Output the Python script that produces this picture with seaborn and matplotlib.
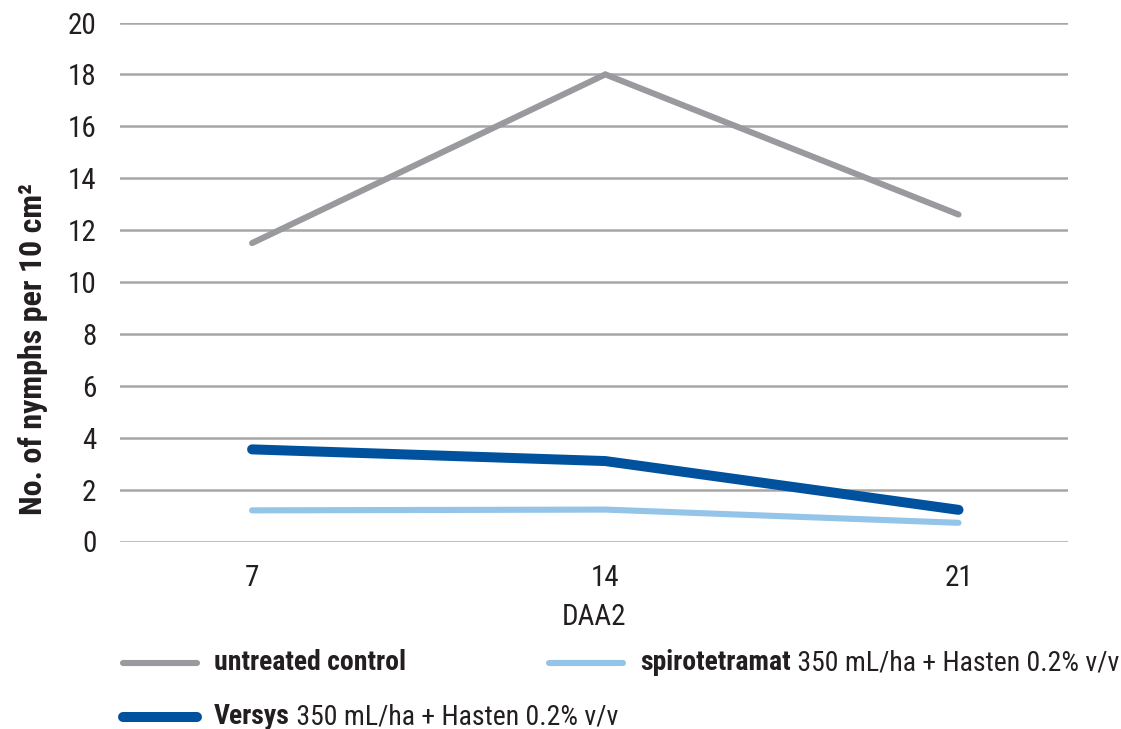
import matplotlib
matplotlib.use("Agg")
import matplotlib.pyplot as plt
import seaborn as sns
import pandas as pd
from matplotlib.lines import Line2D

days = ["7", "14", "21"]
untreated = [11.5, 18.0, 12.6]
spiro = [1.2, 1.23, 0.72]
versys = [3.55, 3.1, 1.22]

series_names = ["untreated control", "spirotetramat", "Versys"]
series_rest = ["", " 350 mL/ha + Hasten 0.2% v/v", " 350 mL/ha + Hasten 0.2% v/v"]
colors = ["#999a9e", "#94c4e8", "#00519e"]
widths = [4.4, 4.4, 7.2]

yticks = list(range(0, 21, 2))

sns.set_theme(style="white")
FONT = ["Roboto Condensed", "Liberation Sans Narrow", "Roboto", "DejaVu Sans"]
plt.rcParams["font.family"] = FONT

fig = plt.figure(figsize=(11.21, 7.29), dpi=100)
ax = fig.add_axes([120 / 1121, 1 - 541.5 / 729, (1068 - 120) / 1121, (541.5 - 22.5) / 729])

df = pd.DataFrame({
    "DAA2": days * 3,
    "value": untreated + spiro + versys,
    "series": [s for s in series_names for _ in days],
})

for name, col, lw in zip(series_names, colors, widths):
    sub = df[df["series"] == name]
    sns.lineplot(data=sub, x="DAA2", y="value", ax=ax, color=col, linewidth=lw,
                 solid_capstyle="round", solid_joinstyle="miter", sort=False, legend=False)

ax.set_xlim(-0.374, 2.31)
ax.set_ylim(0, 20)
ax.set_yticks(yticks)
ax.set_yticklabels([str(t) for t in yticks], fontsize=21, color="#231f20")
ax.set_xticks(range(len(days)))
ax.set_xticklabels(days, fontsize=21, color="#231f20")
ax.tick_params(axis="x", length=0, pad=16)
ax.tick_params(axis="y", length=0, pad=17)
ax.yaxis.grid(True, color="#a6a6a6", linewidth=1.8)
ax.xaxis.grid(False)
for sp in ax.spines.values():
    sp.set_visible(False)
ax.set_axisbelow(True)

ax.set_xlabel("DAA2", fontsize=21, color="#231f20", labelpad=8)
ax.set_ylabel("No. of nymphs per 10 cm²", fontsize=23, fontweight="bold", color="#231f20")
ax.yaxis.set_label_coords(-0.076, 0.37)

# manual legend
fig.canvas.draw()
renderer = fig.canvas.get_renderer()
legend_pos = [(123, 663), (549, 663), (123, 717)]
for idx, (px, py) in enumerate(legend_pos):
    yf = 1 - py / 729
    fig.add_artist(Line2D([px / 1121, (px + 74) / 1121], [yf, yf], color=colors[idx],
                          linewidth=widths[idx], solid_capstyle="round", transform=fig.transFigure))
    t = fig.text((px + 91) / 1121, yf, series_names[idx], fontsize=20, fontweight="bold",
                 color="#231f20", va="center", ha="left")
    if series_rest[idx]:
        bb = t.get_window_extent(renderer)
        fig.text(bb.x1 / 1121, yf, series_rest[idx], fontsize=20, color="#231f20",
                 va="center", ha="left")

fig.savefig("out.png", dpi=100)
